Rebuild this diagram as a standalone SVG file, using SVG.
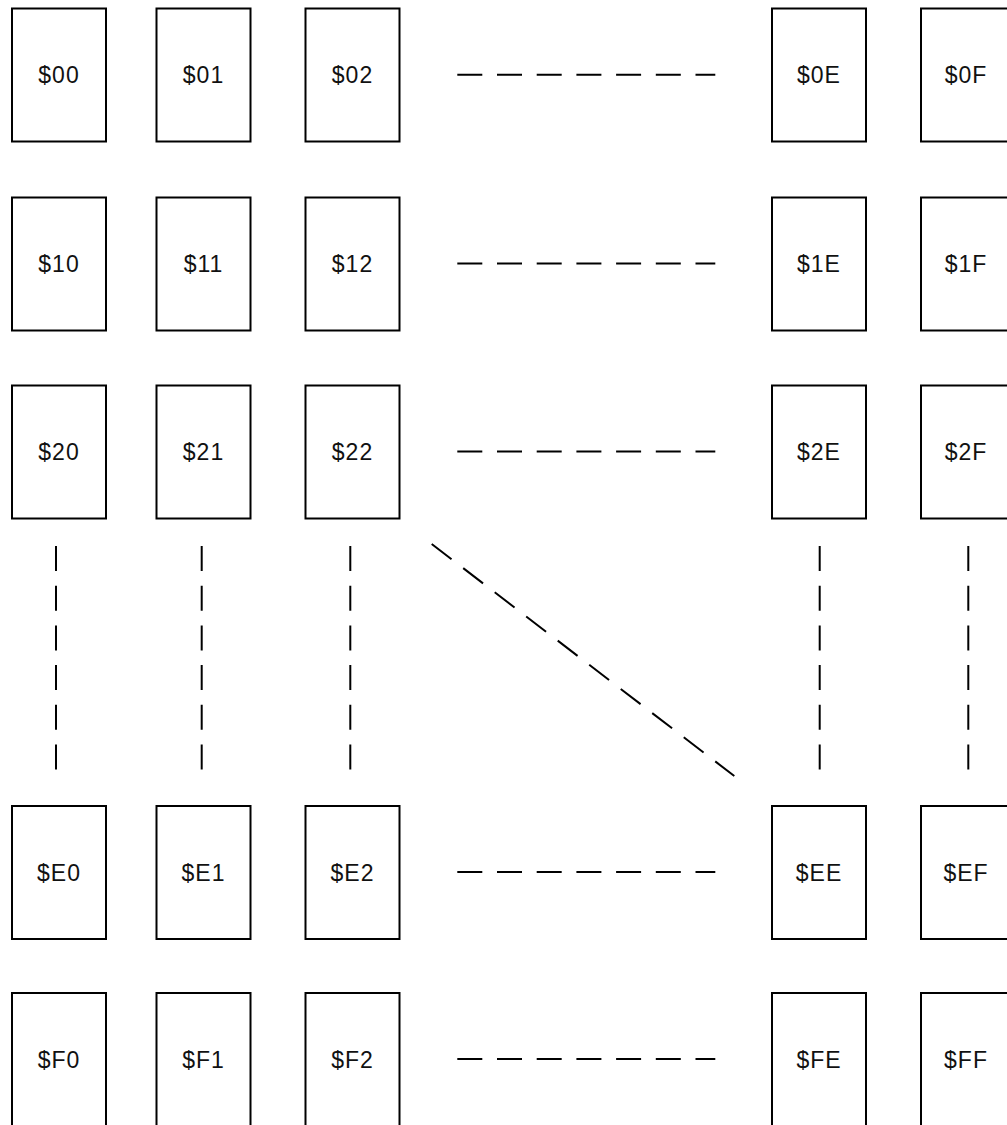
<svg xmlns="http://www.w3.org/2000/svg" width="1007" height="1125" viewBox="0 0 1007 1125">
<style>
.box rect{fill:#fff;stroke:#000;stroke-width:2}
.box text{font-family:"Liberation Sans",Arial,sans-serif;font-size:23px;letter-spacing:1px;text-anchor:middle;fill:#111}
.dash{stroke:#000;stroke-width:2;stroke-dasharray:25 14.7;fill:none}
</style>
<rect width="1007" height="1125" fill="#fff"/>
<g id="connectors">
<line class="dash" x1="457.3" y1="74.7" x2="715.3" y2="74.7"/>
<line class="dash" x1="457.3" y1="263.5" x2="715.3" y2="263.5"/>
<line class="dash" x1="457.3" y1="451.5" x2="715.3" y2="451.5"/>
<line class="dash" x1="457.3" y1="872" x2="715.3" y2="872"/>
<line class="dash" x1="457.3" y1="1059" x2="715.3" y2="1059"/>
<line class="dash" x1="56" y1="546" x2="56" y2="769.5"/>
<line class="dash" x1="201.7" y1="546" x2="201.7" y2="769.5"/>
<line class="dash" x1="350.3" y1="546" x2="350.3" y2="769.5"/>
<line class="dash" x1="819.7" y1="546" x2="819.7" y2="769.5"/>
<line class="dash" x1="968.3" y1="546" x2="968.3" y2="769.5"/>
<line class="dash" x1="431.7" y1="544" x2="734.3" y2="776"/>
</g>
<g id="n00" class="box"><rect x="12" y="8.5" width="94" height="133"/><text x="59" y="83">$00</text></g>
<g id="n01" class="box"><rect x="156.5" y="8.5" width="94" height="133"/><text x="203.5" y="83">$01</text></g>
<g id="n02" class="box"><rect x="305.5" y="8.5" width="94" height="133"/><text x="352.5" y="83">$02</text></g>
<g id="n0E" class="box"><rect x="772" y="8.5" width="94" height="133"/><text x="819" y="83">$0E</text></g>
<g id="n0F" class="box"><rect x="921" y="8.5" width="94" height="133"/><text x="966" y="83">$0F</text></g>
<g id="n10" class="box"><rect x="12" y="197.5" width="94" height="133"/><text x="59" y="272">$10</text></g>
<g id="n11" class="box"><rect x="156.5" y="197.5" width="94" height="133"/><text x="203.5" y="272">$11</text></g>
<g id="n12" class="box"><rect x="305.5" y="197.5" width="94" height="133"/><text x="352.5" y="272">$12</text></g>
<g id="n1E" class="box"><rect x="772" y="197.5" width="94" height="133"/><text x="819" y="272">$1E</text></g>
<g id="n1F" class="box"><rect x="921" y="197.5" width="94" height="133"/><text x="966" y="272">$1F</text></g>
<g id="n20" class="box"><rect x="12" y="385.5" width="94" height="133"/><text x="59" y="460">$20</text></g>
<g id="n21" class="box"><rect x="156.5" y="385.5" width="94" height="133"/><text x="203.5" y="460">$21</text></g>
<g id="n22" class="box"><rect x="305.5" y="385.5" width="94" height="133"/><text x="352.5" y="460">$22</text></g>
<g id="n2E" class="box"><rect x="772" y="385.5" width="94" height="133"/><text x="819" y="460">$2E</text></g>
<g id="n2F" class="box"><rect x="921" y="385.5" width="94" height="133"/><text x="966" y="460">$2F</text></g>
<g id="nE0" class="box"><rect x="12" y="806" width="94" height="133"/><text x="59" y="880.5">$E0</text></g>
<g id="nE1" class="box"><rect x="156.5" y="806" width="94" height="133"/><text x="203.5" y="880.5">$E1</text></g>
<g id="nE2" class="box"><rect x="305.5" y="806" width="94" height="133"/><text x="352.5" y="880.5">$E2</text></g>
<g id="nEE" class="box"><rect x="772" y="806" width="94" height="133"/><text x="819" y="880.5">$EE</text></g>
<g id="nEF" class="box"><rect x="921" y="806" width="94" height="133"/><text x="966" y="880.5">$EF</text></g>
<g id="nF0" class="box"><rect x="12" y="993" width="94" height="133"/><text x="59" y="1067.5">$F0</text></g>
<g id="nF1" class="box"><rect x="156.5" y="993" width="94" height="133"/><text x="203.5" y="1067.5">$F1</text></g>
<g id="nF2" class="box"><rect x="305.5" y="993" width="94" height="133"/><text x="352.5" y="1067.5">$F2</text></g>
<g id="nFE" class="box"><rect x="772" y="993" width="94" height="133"/><text x="819" y="1067.5">$FE</text></g>
<g id="nFF" class="box"><rect x="921" y="993" width="94" height="133"/><text x="966" y="1067.5">$FF</text></g>
</svg>
